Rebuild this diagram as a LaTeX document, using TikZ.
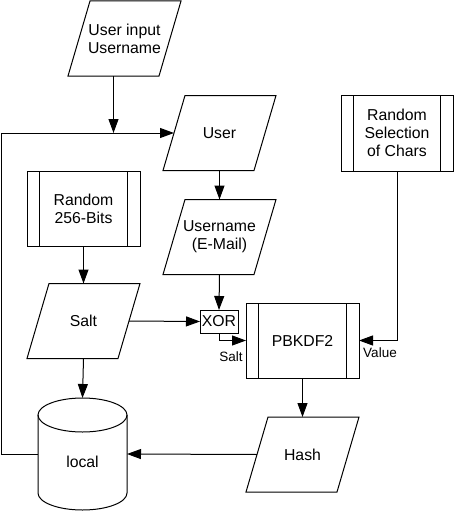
\documentclass[tikz,border=0pt]{standalone}
\usepackage{fontspec}
\setmainfont{Liberation Sans}
\usetikzlibrary{arrows.meta}
\begin{document}
\begin{tikzpicture}[x=1pt,y=-1pt,line width=1pt,
  every node/.style={font=\fontsize{15.8}{18}\selectfont, align=center, inner sep=0pt, outer sep=0pt},
  io/.style={rectangle, minimum width=113pt, minimum height=75pt,
    append after command={\pgfextra{\draw[line width=1pt] (\tikzlastnode.south west)
      -- ([xshift=22pt]\tikzlastnode.north west) -- (\tikzlastnode.north east)
      -- ([xshift=-22pt]\tikzlastnode.south east) -- cycle;}}},
  proc/.style={draw, rectangle, minimum width=113pt, minimum height=75pt,
    path picture={
      \draw[line width=1pt] ([xshift=12.5pt]path picture bounding box.north west) -- ([xshift=12.5pt]path picture bounding box.south west);
      \draw[line width=1pt] ([xshift=-12.5pt]path picture bounding box.north east) -- ([xshift=-12.5pt]path picture bounding box.south east);}},
  small/.style={font=\fontsize{13.5}{16}\selectfont},
  conn/.style={-{Triangle[length=14pt,width=10pt]}}
]
\useasboundingbox (0,0) rectangle (454,511);

% nodes
\node[io] (uin) at (124.5,38.5) {User input\\Username};
\node[io] (user) at (219.5,133) {User};
\node[io] (uname) at (219.5,237) {Username\\(E-Mail)};
\node[io] (salt) at (83.5,321) {Salt};
\node[io] (hash) at (302.5,454.5) {Hash};

\node[proc] (r256) at (83.5,209) {Random\\256-Bits};
\node[proc] (pbk) at (302.5,340.5) {PBKDF2};
\node[proc, minimum width=112pt, minimum height=76pt] (rsel) at (397,133) {Random\\Selection\\of Chars};

\node[draw, minimum width=38pt, minimum height=23pt] (xor) at (219,321.5) {XOR};

% cylinder
\node[minimum width=89pt, minimum height=112pt] (local) at (82.5,454) {};
\node (locallbl) at (82.5,462) {local};
\draw ([yshift=-17pt]local.north) ellipse [x radius=44.5pt, y radius=17pt];
\draw ([yshift=-17pt]local.north west) -- ([yshift=17pt]local.south west)
  arc[start angle=180, end angle=360, x radius=44.5pt, y radius=17pt]
  -- ([yshift=-17pt]local.north east);

% labels
\node[small] (saltlbl) at (231,357) {Salt};
\node[small] (valuelbl) at (380,353) {Value};

% connectors
\coordinate (uinb) at ([xshift=-11pt]uin.south);
\coordinate (j) at (uinb |- user.west);
\draw[conn] (uinb) -- (j);
\draw[conn] (local.west) -- ++(-37,0) |- ([xshift=11pt]user.west);
\draw[conn] (user.south) -- (uname.north);
\draw[conn] (uname.south) -- (xor.north);
\draw[conn] (r256.south) -- (salt.north);
\draw[conn] ([xshift=-11pt]salt.east) -- (xor.west);
\draw[conn] (xor.south) |- (pbk.west);
\draw[conn] (rsel.south) |- (pbk.east);
\draw[conn] (pbk.south) -- (hash.north);
\draw[conn] ([xshift=11pt]hash.west) -- (local.east);
\draw[conn] (salt.south) -- (local.north);
\end{tikzpicture}
\end{document}
